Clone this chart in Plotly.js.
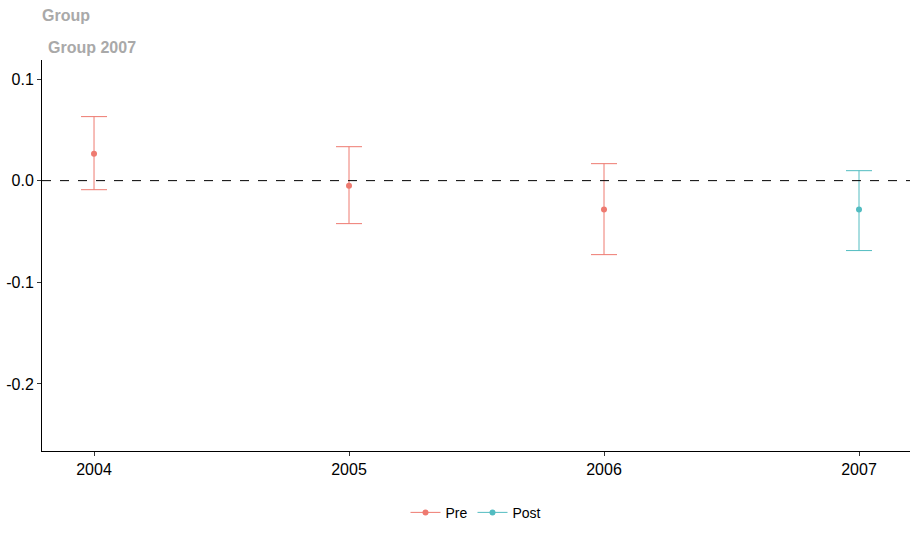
<!DOCTYPE html>
<html>
<head>
<meta charset="utf-8">
<script src="https://cdn.plot.ly/plotly-3.0.1.min.js"></script>
<style>html,body{margin:0;padding:0;background:#fff;}#chart{width:920px;height:539px;}</style>
</head>
<body>
<div id="chart"></div>
<script>
const preYears = [2004, 2005, 2006];
const preEst = [0.0265, -0.005, -0.0285];
const preLow = [-0.0089, -0.0423, -0.0728];
const preHigh = [0.063, 0.0334, 0.0167];

const postYears = [2007];
const postEst = [-0.0285];
const postLow = [-0.0688];
const postHigh = [0.0098];

const xTicks = [2004, 2005, 2006, 2007];
const yTicks = [0.1, 0.0, -0.1, -0.2];
const yTickText = ['0.1', '0.0', '-0.1', '-0.2'];

const preColor = '#EE7A70';
const postColor = '#52BCC1';

function errTrace(xs, est, lo, hi, color, name) {
  return {
    type: 'scatter', mode: 'markers', x: xs, y: est, name: name,
    showlegend: false,
    marker: {color: color, size: 6},
    error_y: {
      type: 'data', symmetric: false,
      array: hi.map((h, i) => h - est[i]),
      arrayminus: lo.map((l, i) => est[i] - l),
      color: color, thickness: 1, width: 13
    }
  };
}

const traces = [
  errTrace(preYears, preEst, preLow, preHigh, preColor, 'Pre'),
  errTrace(postYears, postEst, postLow, postHigh, postColor, 'Post'),
  {type: 'scatter', mode: 'lines+markers', x: [null], y: [null], name: 'Pre',
   line: {color: preColor, width: 1}, marker: {color: preColor, size: 6}},
  {type: 'scatter', mode: 'lines+markers', x: [null], y: [null], name: 'Post',
   line: {color: postColor, width: 1}, marker: {color: postColor, size: 6}}
];

const layout = {
  width: 920, height: 539,
  margin: {l: 42, r: 10, t: 60, b: 88},
  paper_bgcolor: '#ffffff', plot_bgcolor: '#ffffff',
  font: {family: 'Liberation Sans, Arial, sans-serif', color: '#000'},
  xaxis: {
    range: [2003.796, 2007.2], tickvals: xTicks, ticktext: xTicks.map(String),
    showgrid: false, zeroline: false, showline: true, linecolor: '#000', linewidth: 1,
    ticks: 'outside', ticklen: 4, tickcolor: '#333', tickfont: {size: 16, color: '#000'}
  },
  yaxis: {
    range: [-0.266, 0.1187], tickvals: yTicks, ticktext: yTickText,
    showgrid: false, zeroline: false, showline: true, linecolor: '#000', linewidth: 1,
    ticks: 'outside', ticklen: 4, tickcolor: '#333', tickfont: {size: 16, color: '#000'}
  },
  shapes: [{type: 'line', xref: 'paper', x0: 0, x1: 1, yref: 'y', y0: 0, y1: 0,
            line: {color: '#000', width: 1, dash: 'dash'}}],
  annotations: [
    {text: '<b>Group</b>', xref: 'paper', yref: 'paper', x: -0.002, y: 1.115,
     xanchor: 'left', yanchor: 'middle', showarrow: false,
     font: {size: 16, color: '#A9A9A9'}},
    {text: '<b>Group 2007</b>', xref: 'paper', yref: 'paper', x: 0.005, y: 1.033,
     xanchor: 'left', yanchor: 'middle', showarrow: false,
     font: {size: 16, color: '#A9A9A9'}}
  ],
  legend: {orientation: 'h', x: 0.5, xanchor: 'center', y: -0.158, yanchor: 'middle',
           font: {size: 14, color: '#000'}, bgcolor: 'rgba(0,0,0,0)', itemwidth: 30}
};

Plotly.newPlot('chart', traces, layout, {displayModeBar: false, staticPlot: true});
</script>
</body>
</html>
